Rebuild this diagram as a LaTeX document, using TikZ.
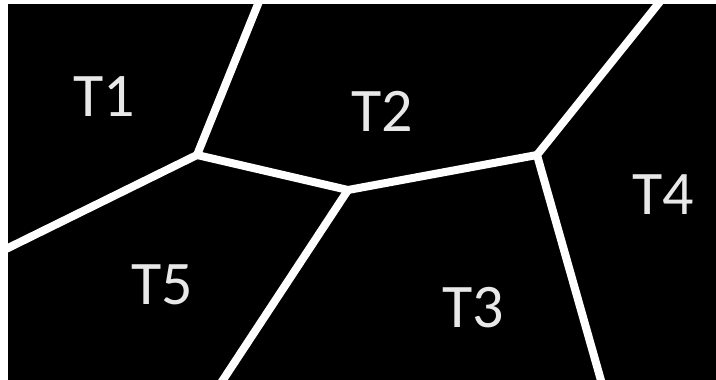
\documentclass[tikz,border=0pt]{standalone}
\usepackage{fontspec}
\setmainfont{Carlito}
\usetikzlibrary{positioning,calc}
\definecolor{tileGray}{RGB}{232,232,232}
\tikzset{
  edge/.style={white, line width=8pt, line cap=butt, line join=round},
  tile/.style={text=tileGray, font=\fontsize{62}{62}\selectfont, inner sep=0pt}
}
\begin{document}
\begin{tikzpicture}[x=1pt,y=-1pt]
\useasboundingbox (0,0) rectangle (716,380);
\fill[white] (0,0) rectangle (716,380);
\fill[black] (8,4) rectangle (716,380);
% junctions and border ends
\coordinate (jl) at (197,155);
\coordinate (jm) at (348,190);
\coordinate (jr) at (537,155);
\coordinate (tl) at (258,4);
\coordinate (tr) at (658,4);
\coordinate (lb) at (8,248);
\coordinate (bl) at (223,380);
\coordinate (br) at (601,380);
\begin{scope}
\clip (8,4) rectangle (716,380);
\draw[edge] ($(tl)+(1.4,-3.4)$) -- (jl);
\draw[edge] (jl) -- ($(lb)+(-4,2)$);
\draw[edge] (jl) -- (jm) -- (jr);
\draw[edge] (jm) -- ($(bl)+(-2.7,4)$);
\draw[edge] ($(tr)+(2.6,-3.1)$) -- (jr) -- ($(br)+(1,4)$);
\end{scope}
% tile labels
\node[tile] (t1) at (104,97) {T1};
\node[tile] (t2) at (382,111) {T2};
\node[tile] (t3) at (473,308) {T3};
\node[tile] (t4) at (663,195) {T4};
\node[tile] (t5) at (162,285) {T5};
\end{tikzpicture}
\end{document}
